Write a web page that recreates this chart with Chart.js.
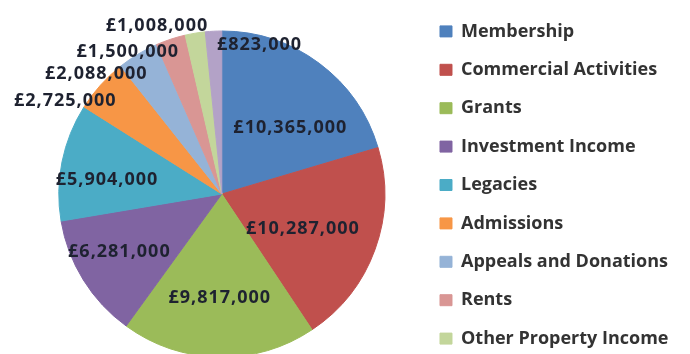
<!DOCTYPE html>
<html>
<head>
<meta charset="utf-8">
<title>Income Sources</title>
<script src="https://cdn.jsdelivr.net/npm/chart.js@4.4.1/dist/chart.umd.min.js"></script>
<style>
  html, body { margin: 0; padding: 0; background: #fff; overflow: hidden; }
  .frame { width: 690px; height: 354px; overflow: hidden; }
  canvas { display: block; }
</style>
</head>
<body>
<div class="frame">
  <canvas id="incomeChart" width="690" height="386"></canvas>
</div>
<script>
// ---- Income by source (£) ----
const sources = [
  'Membership', 'Commercial Activities', 'Grants', 'Investment Income', 'Legacies',
  'Admissions', 'Appeals and Donations', 'Rents', 'Other Property Income', 'Other Income'
];
const income = [10365000, 10287000, 9817000, 6281000, 5904000, 2725000, 2088000, 1500000, 1008000, 823000];
const sliceColours = [
  '#4F81BD', '#C0504D', '#9BBB59', '#8064A2', '#4BACC6',
  '#F79646', '#95B3D7', '#D99694', '#C3D69B', '#B3A2C7'
];

// label placement per slice: [fraction of radius, angle nudge in degrees]
const labelPlace = [
  [0.59, 8.7], [0.54, 3], [0.63, 0], [0.72, 2.6], [0.71, -4],
  [1.12, -11], [1.07, -15], [1.05, -15], [1.11, -11.6], [0.95, 17]
];

const LEGEND_ITEMS = 9;

function pounds(v) {
  return '£' + String(v).replace(/\B(?=(\d{3})+(?!\d))/g, ',');
}

// ---- Value labels drawn from the arc geometry ----
const sliceLabels = {
  id: 'sliceLabels',
  afterDatasetsDraw(chart) {
    const ctx = chart.ctx;
    const meta = chart.getDatasetMeta(0);
    ctx.save();
    ctx.font = 'bold 18px "Open Sans", sans-serif';
    ctx.letterSpacing = '1px';
    ctx.fillStyle = '#1e2230';
    ctx.textAlign = 'center';
    ctx.textBaseline = 'middle';
    meta.data.forEach((arc, i) => {
      const p = arc.getProps(['x', 'y', 'startAngle', 'endAngle', 'outerRadius'], true);
      const [f, nudge] = labelPlace[i];
      const mid = (p.startAngle + p.endAngle) / 2 + nudge * Math.PI / 180;
      const r = p.outerRadius * f;
      // +1: 'middle' sits a touch high for digits
      ctx.fillText(pounds(income[i]), p.x + Math.cos(mid) * r, p.y + Math.sin(mid) * r + 1);
    });
    ctx.restore();
  }
};

new Chart(document.getElementById('incomeChart'), {
  type: 'pie',
  data: {
    labels: sources,
    datasets: [{
      data: income,
      backgroundColor: sliceColours,
      borderColor: sliceColours,
      borderWidth: 1,
      radius: 163
    }]
  },
  options: {
    responsive: false,
    animation: false,
    devicePixelRatio: 1,
    layout: { padding: { left: 24, top: 2, bottom: 0, right: 11.5 } },
    plugins: {
      tooltip: { enabled: false },
      legend: {
        position: 'right',
        align: 'start',
        labels: {
          boxWidth: 12,
          boxHeight: 11,
          padding: 20.4,
          color: '#333',
          font: { family: '"Open Sans", sans-serif', size: 18, weight: 'bold' },
          filter: item => item.index < LEGEND_ITEMS
        }
      }
    }
  },
  plugins: [sliceLabels]
});
</script>
</body>
</html>
